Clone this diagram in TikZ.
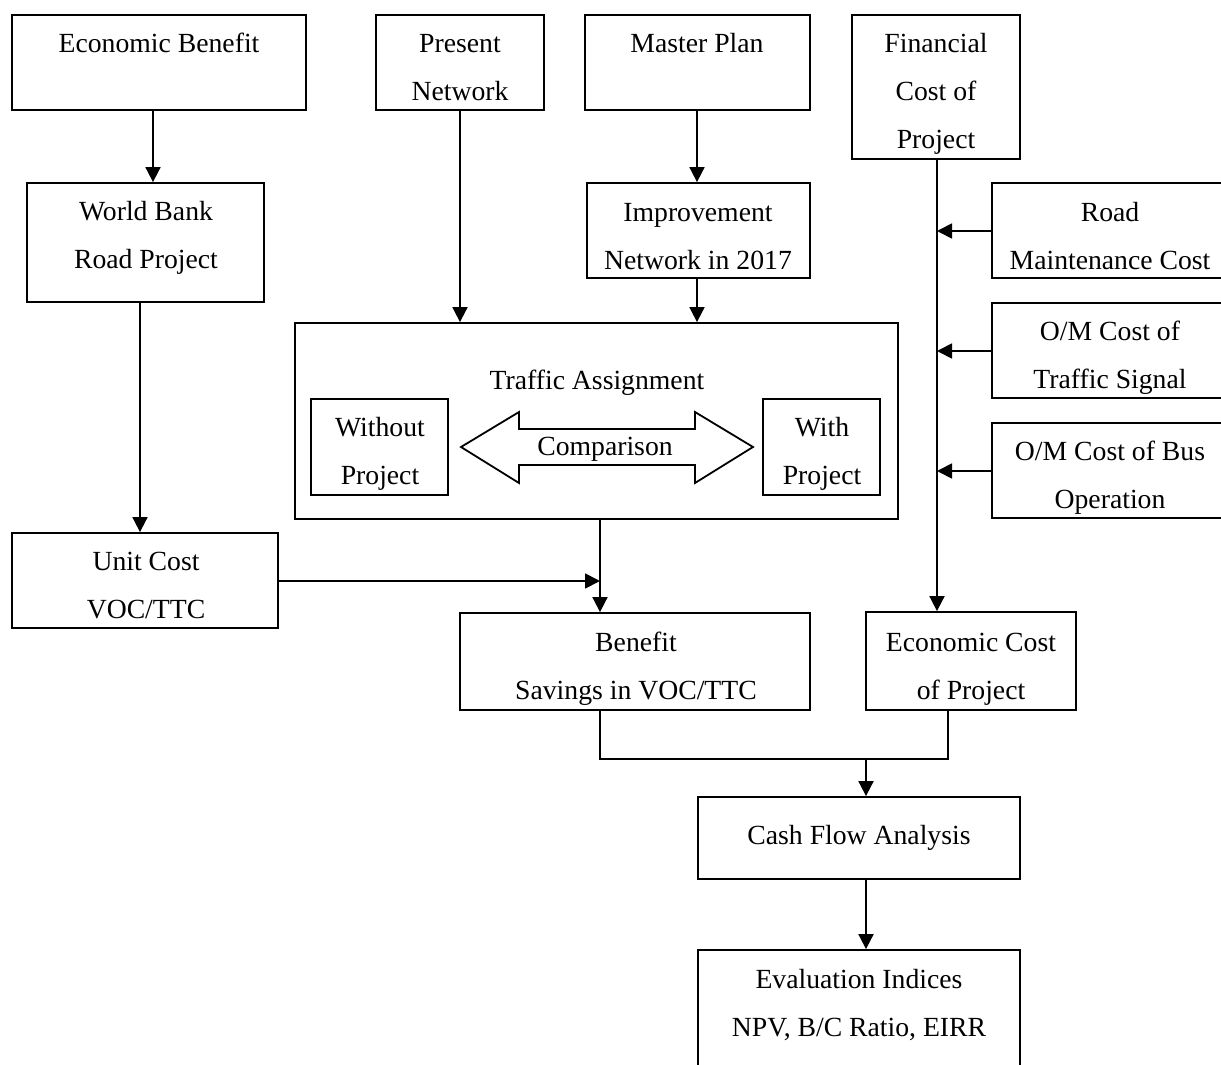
\documentclass[tikz,border=0pt]{standalone}
\usepackage{fontspec}
\setmainfont{Liberation Serif}
\usetikzlibrary{arrows.meta,calc}
\begin{document}
\begin{tikzpicture}[x=0.5pt,y=-0.5pt,
  box/.style={draw, line width=0.9pt, inner sep=0pt},
  sz/.style 2 args={minimum width=#1*0.5pt, minimum height=#2*0.5pt},
  lbl/.style={font=\fontsize{13.85pt}{24pt}\selectfont, align=center, inner sep=0pt},
  arr/.style={line width=0.9pt, -{Triangle[length=7.5pt,width=7.5pt]}},
  wire/.style={line width=0.9pt}]
\useasboundingbox (0,0) rectangle (1221,1065);
\clip (0,0) rectangle (1221,1065);

% top row
\node[box, sz={294}{95}] (eb) at (159,62.5) {};
\node[lbl] (ebt) at (159,43) {Economic Benefit};
\node[box, sz={168}{95}] (pn) at (460,62.5) {};
\node[lbl] (pnt) at (460,68) {Present\\Network};
\node[box, sz={225}{95}] (mp) at (697.5,62.5) {};
\node[lbl] (mpt) at (697,43) {Master Plan};
\node[box, sz={168}{144}] (fc) at (936,87) {};
\node[lbl] (fct) at (936,94) {Financial\\Cost of\\Project};

% second row
\node[box, sz={237}{119}] (wb) at (145.5,242.5) {};
\node[lbl] (wbt) at (146,238) {World Bank\\Road Project};
\node[box, sz={223}{95}] (im) at (698.5,230.5) {};
\node[lbl] (imt) at (698,237) {Improvement\\Network in 2017};

% cost items feeding the financial cost line
\node[box, sz={236}{95}] (rm) at (1110,230.5) {};
\node[lbl] (rmt) at (1110,236.5) {Road\\Maintenance Cost};
\node[box, sz={236}{95}] (oms) at (1110,350.5) {};
\node[lbl] (omst) at (1110,358) {O/M Cost of\\Traffic Signal};
\node[box, sz={236}{95}] (omb) at (1110,470.5) {};
\node[lbl] (ombt) at (1110,478) {O/M Cost of Bus\\Operation};

% traffic assignment
\node[box, sz={603}{196}] (ta) at (596.5,421) {};
\node[lbl] (tat) at (597,383) {Traffic Assignment};
\node[box, sz={137}{96}] (wo) at (379.5,447) {};
\node[lbl] (wot) at (380,454) {Without\\Project};
\node[box, sz={117}{96}] (wi) at (821.5,447) {};
\node[lbl] (wit) at (822,454) {With\\Project};
\draw[wire, fill=white] (461,447) -- (519,412) -- (519,429) -- (695,429)
  -- (695,412) -- (753,447) -- (695,483) -- (695,465) -- (519,465)
  -- (519,483) -- cycle;
\node[lbl] (cmp) at (605,449) {Comparison};

% lower part
\node[box, sz={266}{95}] (uc) at (145,580.5) {};
\node[lbl] (uct) at (146,586) {Unit Cost\\VOC/TTC};
\node[box, sz={350}{97}] (bs) at (635,661.5) {};
\node[lbl] (bst) at (636,669) {Benefit\\Savings in VOC/TTC};
\node[box, sz={210}{98}] (ec) at (971,661) {};
\node[lbl] (ect) at (971,669) {Economic Cost\\of Project};
\node[box, sz={322}{82}] (cf) at (859,838) {};
\node[lbl] (cft) at (859,838) {Cash Flow Analysis};
\node[box, sz={322}{130}] (ev) at (859,1015) {};
\node[lbl] (evt) at (859,1005) {Evaluation Indices\\NPV, B/C Ratio, EIRR};

% connectors
\draw[arr] ([xshift=-3pt]eb.south) -- ([xshift=-3pt]eb.south |- wb.north);
\draw[arr] (pn.south) -- (pn.south |- ta.north);
\draw[arr] ([xshift=-0.25pt]mp.south) -- ([xshift=-0.25pt]mp.south |- im.north);
\draw[arr] ([xshift=-0.75pt]im.south) -- ([xshift=-0.75pt]im.south |- ta.north);
\draw[arr] ([xshift=-2.75pt]wb.south) -- ([xshift=-2.75pt]wb.south |- uc.north);
\draw[arr] ([xshift=0.5pt]fc.south) -- ([xshift=0.5pt]fc.south |- ec.north);
\draw[arr] ([yshift=-0.25pt]rm.west) -- ([xshift=0.5pt,yshift=-0.25pt]rm.west -| fc.south);
\draw[arr] ([yshift=-0.25pt]oms.west) -- ([xshift=0.5pt,yshift=-0.25pt]oms.west -| fc.south);
\draw[arr] ([yshift=-0.25pt]omb.west) -- ([xshift=0.5pt,yshift=-0.25pt]omb.west -| fc.south);

\coordinate (tap) at ([xshift=1.75pt]ta.south);
\draw[arr] (tap) -- (tap |- bs.north);
\draw[arr] ([yshift=-0.25pt]uc.east) -- ([yshift=-0.25pt]uc.east -| tap);

\coordinate (jn) at ($([xshift=-17.5pt]bs.south)+(0,48)$);
\draw[wire] ([xshift=-17.5pt]bs.south) -- (jn) -| ([xshift=-11.5pt]ec.south);
\coordinate (cfin) at ([xshift=3.5pt]cf.north);
\draw[arr] (jn -| cfin) -- (cfin);
\draw[arr] ([xshift=3.5pt]cf.south) -- ([xshift=3.5pt]cf.south |- ev.north);
\end{tikzpicture}
\end{document}
